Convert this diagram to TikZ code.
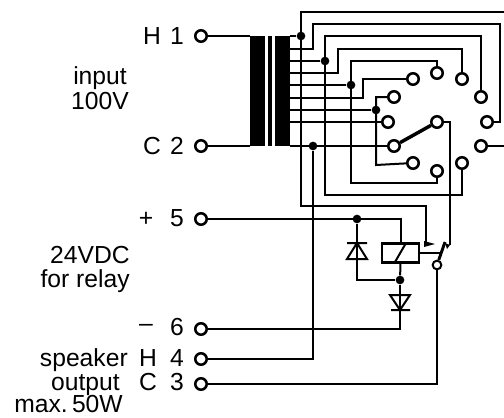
\documentclass[tikz,border=0pt]{standalone}
\usepackage{fontspec}
\setmainfont{Liberation Sans}
\usetikzlibrary{backgrounds}
\tikzset{
	term/.style={circle,draw,fill=white,line width=1.9pt,minimum size=8.6pt,inner sep=0pt},
	smallterm/.style={term,minimum size=6.5pt,line width=1.5pt},
	dot/.style={circle,fill=black,minimum size=6.5pt,inner sep=0pt},
	wire/.style={line width=1.5pt},
	lab/.style={font=\fontsize{18.5}{20}\selectfont,inner sep=0pt,anchor=base},
	lbl/.style={lab,anchor=base east}
}
\begin{document}
\begin{tikzpicture}[x=.75pt,y=-.75pt]
	\useasboundingbox (0,0) rectangle (504,418);
	% input side
	\node[term] (tH) at (201,36) {};
	\node[term] (tC) at (201,146) {};
	\node[term] (tP) at (201,219) {};
	\node[term] (tM) at (201,329) {};
	\node[term] (tS) at (201,359) {};
	\node[term] (tR) at (201,384) {};
	\foreach \n/\y in {a/36,b/49,c/61,d/73,e/85,f/98,g/110,h/122,i/146}
		\coordinate (w\n) at (290,\y);
	\coordinate (eA) at (504,12);
	\coordinate (eB) at (504,146);
	% selector
	\node[term] (s1) at (437,73) {};
	\node[term] (s2) at (462,79) {};
	\node[term] (s3) at (481,97) {};
	\node[term] (s4) at (487,122) {};
	\node[term] (s5) at (481,146) {};
	\node[term] (s6) at (462,163) {};
	\node[term] (s7) at (437,171) {};
	\node[term] (s8) at (413,163) {};
	\node[term] (s9) at (394,146) {};
	\node[term] (s10) at (388,122) {};
	\node[term] (s11) at (394,97) {};
	\node[term] (s12) at (413,79) {};
	\node[term] (s0) at (437,122) {};
	% relay
	\node[draw,line width=1.6pt,minimum width=27.7pt,minimum height=14.2pt,inner sep=0pt] (coil) at (400.5,253) {};
	\node[dot] (dA) at (301,36) {};
	\node[dot] (dB) at (325,61) {};
	\node[dot] (dC) at (351,85) {};
	\node[dot] (dD) at (376,110) {};
	\node[dot] (dE) at (313,146) {};
	\node[dot] (dF) at (357,219) {};
	\node[dot] (dG) at (400,280) {};
	\node[smallterm] (sw) at (437,265) {};
	\coordinate (swT) at (445,242);
	\coordinate (cT) at (450,245);
	\coordinate (cN) at (426,244);
	\begin{scope}[on background layer]
	% core
	\fill (250,36) rectangle (265,146);
	\fill (268,36) rectangle (272,146);
	\fill (275,36) rectangle (290,146);
	\draw[wire] (tH) -- (250,36);
	\draw[wire] (tC) -- (250,146);
	\draw[wire] (wa) -- (dA);
	\draw[wire] (eA) -| (301,206) -| (cN);
	\draw[wire] (wb) -| (313,24) -| (500,122) -- (s4);
	\draw[wire] (dB) -- (wc);
	\draw[wire] (s3) |- (325,36) -- (325,195) -| (s6);
	\draw[wire] (wd) -| (338,49) -| (s2);
	\draw[wire] (we) -- (dC);
	\draw[wire] (s1) |- (351,61) -- (351,183) -| (s7);
	\draw[wire] (wf) -| (363,79) -- (s12);
	\draw[wire] (wg) -- (dD);
	\draw[wire] (s11) -| (376,165) -- (s8);
	\draw[wire] (wh) -- (s10);
	\draw[wire] (wi) -- (s9);
	\draw[wire] (dE) |- (tS);
	\draw[wire] (s5) -- (eB);
	\draw[line width=2.6pt] (s9) -- (s0);
	\draw[wire] (s0) -| (cT);
	\draw[wire] (tR) -| (sw);
	\draw[line width=2.2pt] (sw) -- (swT);
	\fill (cT) -- (445,243) -- (447,249) -- cycle;
	\fill (cN) ++(-2,-3) -- ++(11,3) -- ++(-11,3) -- cycle;
	\draw[wire] (tP) -| (coil);
	\draw[wire] (coil.east) -- (440,253);
	\draw[wire] (coil.south) -- (dG);
	\draw[wire] (395,262) -- (406,243);
	\draw[wire] (dF) -- (357,280) -- (dG);
	\draw[wire] (347,243) -- (367,243) (357,243) -- (347,259) -- (367,259) -- cycle;
	\draw[wire] (dG) -- (400,329) -- (tM);
	\draw[wire] (390,295) -- (410,295) -- (400,310) -- cycle (391,310) -- (410,310);
	\end{scope}
	% labels
	\node[lab] (lH) at (152,44) {H};
	\node[lab] (l1) at (177,44) {1};
	\node[lab] (lC) at (152,154) {C};
	\node[lab] (l2) at (177,154) {2};
	\node[lab] (lIn) at (100,84) {input};
	\node[lab] (lV) at (100,109) {100V};
	\node[lab] (lPl) at (146,226) {+};
	\node[lab] (l5) at (177,226) {5};
	\node[lbl] (lDC) at (130,263) {24VDC};
	\node[lbl] (lRe) at (130,287) {for relay};
	\node[lab] (lMi) at (146,331) {–};
	\node[lab] (l6) at (177,335) {6};
	\node[lbl] (lSp) at (128,366) {speaker};
	\node[lab] (lHs) at (148,366) {H};
	\node[lab] (l4) at (177,366) {4};
	\node[lbl] (lOu) at (120,390) {output};
	\node[lab] (lCs) at (148,390) {C};
	\node[lab] (l3) at (177,390) {3};
	\node[lbl] (lMa) at (123,412.5) {max.\hspace{-.2em} 50W};
\end{tikzpicture}
\end{document}
